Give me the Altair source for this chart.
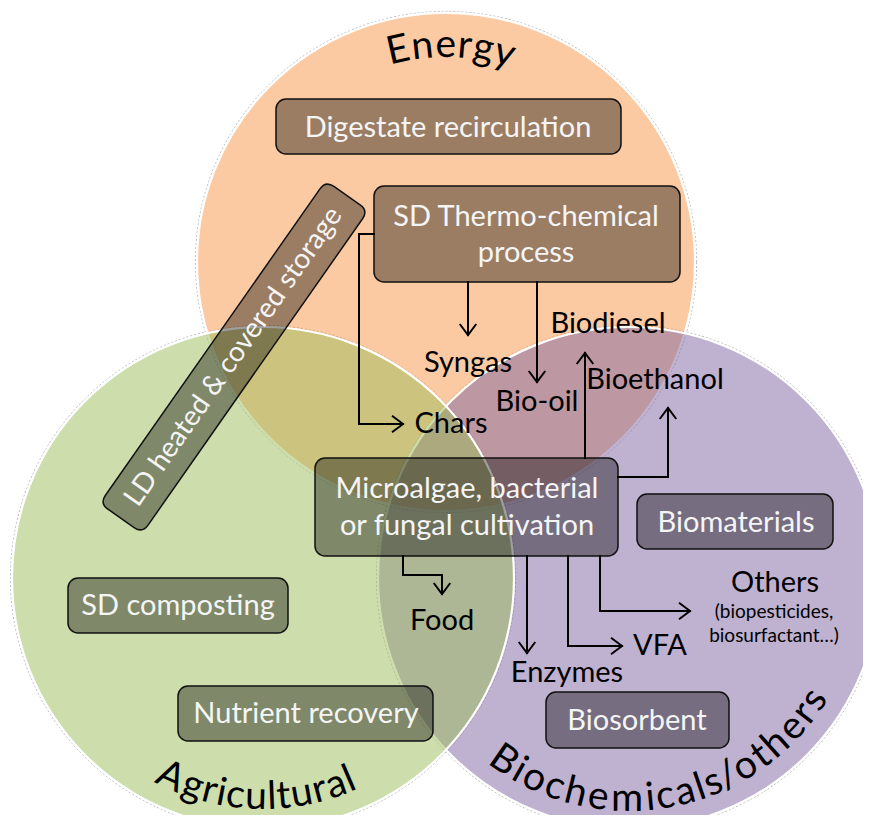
import math
import altair as alt
import pandas as pd

# ---------------- data ----------------
# Venn circles (draw order: Energy, Biochemicals/others, Agricultural)
circle_names = ["Energy", "Biochemicals/others", "Agricultural"]
circle_cx = [446, 629, 263]
circle_cy = [262, 578, 578]
circle_r = [249, 251, 251]
circle_colors = ["#F79646", "#8064A2", "#9BBB59"]

# axis-aligned process boxes
box_names = ["Digestate recirculation", "SD Thermo-chemical process",
             "Microalgae, bacterial or fungal cultivation", "Biomaterials",
             "SD composting", "Nutrient recovery", "Biosorbent"]
box_x1 = [276, 374, 315, 637, 68, 178, 546]
box_x2 = [621, 680, 618, 833, 288, 433, 729]
box_y1 = [99, 186, 458, 494, 578, 686, 692]
box_y2 = [154, 282, 556, 549, 633, 741, 748]

# text lines inside boxes
box_text = ["Digestate recirculation", "SD Thermo-chemical", "process",
            "Microalgae, bacterial", "or fungal cultivation", "Biomaterials",
            "SD composting", "Nutrient recovery", "Biosorbent"]
box_text_x = [448, 526, 526, 467, 467, 736, 178, 306, 637]
box_text_y = [137, 226, 262, 498, 535, 532, 615, 723, 730]

# rotated box
ld_text = "LD heated & covered storage"
ld_center = (234, 357)
ld_length = 394
ld_width = 52
ld_angle = 305  # clockwise degrees

# product labels
product = ["Syngas", "Bio-oil", "Chars", "Biodiesel", "Bioethanol",
           "Food", "Enzymes", "VFA", "Others"]
product_x = [468, 537, 451, 608, 655, 442, 567, 660, 775]
product_y = [372, 411, 433, 333, 389, 630, 682, 655, 592]
note = ["(biopesticides,", "biosurfactant…)"]
note_x = [774, 774]
note_y = [618, 642]

# arrow polylines (last point = arrow tip)
arrow_paths = [
    [(374, 234), (359, 234), (359, 424), (403, 424)],   # Chars
    [(468, 282), (468, 335)],                           # Syngas
    [(537, 282), (537, 382)],                           # Bio-oil
    [(585, 458), (585, 353)],                           # Biodiesel
    [(618, 477), (668, 477), (668, 408)],               # Bioethanol
    [(403, 556), (403, 575), (442, 575), (442, 594)],   # Food
    [(527, 556), (527, 653)],                           # Enzymes
    [(568, 556), (568, 646), (622, 646)],               # VFA
    [(600, 556), (600, 611), (690, 611)],               # Others
]

# curved circle titles: text, circle centre, baseline radius, start/end angle, on top?
titles = [
    ("Energy", 446, 262, 205, -106.0, -71.5, True),
    ("Agricultural", 263, 578, 231, 118.5, 65.5, False),
    ("Biochemicals/others", 629, 578, 233, 128.0, 31.0, False),
]

# ---------------- helpers ----------------
W, H = 855, 807
xs = alt.Scale(domain=[8, 8 + W], range=[0, W], nice=False, zero=False)
ys = alt.Scale(domain=[8, 8 + H], range=[0, H], nice=False, zero=False)
FONT = "Lato"

EM = {"A": .68, "B": .63, "E": .56, "a": .48, "b": .55, "c": .46, "e": .51,
      "g": .50, "h": .55, "i": .24, "l": .24, "m": .83, "n": .55, "o": .55,
      "r": .36, "s": .41, "t": .34, "u": .55, "y": .48, "/": .35}

def X(f="x"):
    return alt.X(f"{f}:Q", scale=xs, axis=None)

def Y(f="y"):
    return alt.Y(f"{f}:Q", scale=ys, axis=None)

# circles (Vega circle symbol: size = (diameter)^2)
circ_df = pd.DataFrame({"name": circle_names, "x": circle_cx, "y": circle_cy,
                        "area": [(2 * r) ** 2 for r in circle_r],
                        "area2": [(2 * (r + 1.6)) ** 2 for r in circle_r],
                        "color": circle_colors, "order": [0, 1, 2]})
outline = alt.Chart(circ_df).mark_circle(
    opacity=1, fillOpacity=0, stroke="#b8b8b8", strokeWidth=1, strokeDash=[2, 2], clip=True
).encode(x=X(), y=Y(), size=alt.Size("area2:Q", scale=None, legend=None),
         order=alt.Order("order:Q"))
circles = alt.Chart(circ_df).mark_circle(
    opacity=1, fillOpacity=0.5, stroke="white", strokeWidth=2.2, clip=True
).encode(x=X(), y=Y(), size=alt.Size("area:Q", scale=None, legend=None),
         color=alt.Color("color:N", scale=None, legend=None),
         order=alt.Order("order:Q"))

# boxes
box_df = pd.DataFrame({"name": box_names, "x": box_x1, "x2": box_x2,
                       "y": box_y1, "y2": box_y2})
boxes = alt.Chart(box_df).mark_rect(
    cornerRadius=10, fill="black", fillOpacity=0.38, stroke="#111111",
    strokeWidth=1.5
).encode(x=X(), x2="x2:Q", y=Y(), y2="y2:Q")

# rotated box as custom symbol (rounded rectangle in unit square)
hw = ld_width / ld_length
rc = 10 / (ld_length / 2)
path = (f"M {-1 + rc} {-hw} L {1 - rc} {-hw} Q 1 {-hw} 1 {-hw + rc} "
        f"L 1 {hw - rc} Q 1 {hw} {1 - rc} {hw} L {-1 + rc} {hw} "
        f"Q -1 {hw} -1 {hw - rc} L -1 {-hw + rc} Q -1 {-hw} {-1 + rc} {-hw} Z")
ld_df = pd.DataFrame({"x": [ld_center[0]], "y": [ld_center[1]],
                      "size": [ld_length ** 2], "label": [ld_text]})
ld_box = alt.Chart(ld_df).mark_point(
    shape=path, filled=True, fill="black", fillOpacity=0.38, stroke="#111111",
    strokeWidth=1.5, opacity=1, angle=ld_angle
).encode(x=X(), y=Y(), size=alt.Size("size:Q", scale=None, legend=None))
ld_label = alt.Chart(ld_df).mark_text(
    font=FONT, fontSize=28, color="#F5F5F5", angle=ld_angle, align="center",
    baseline="middle"
).encode(x=X(), y=Y(), text="label:N")

# box texts
bt_df = pd.DataFrame({"t": box_text, "x": box_text_x, "y": box_text_y})
box_labels = alt.Chart(bt_df).mark_text(
    font=FONT, fontSize=29, color="#F5F5F5", align="center", baseline="alphabetic"
).encode(x=X(), y=Y(), text="t:N")

# product labels
pr_df = pd.DataFrame({"t": product, "x": product_x, "y": product_y})
prod_labels = alt.Chart(pr_df).mark_text(
    font=FONT, fontSize=29, color="black", align="center", baseline="alphabetic"
).encode(x=X(), y=Y(), text="t:N")
nt_df = pd.DataFrame({"t": note, "x": note_x, "y": note_y})
note_labels = alt.Chart(nt_df).mark_text(
    font=FONT, fontSize=19, color="black", align="center", baseline="alphabetic"
).encode(x=X(), y=Y(), text="t:N")

# arrows
seg_rows, head_rows = [], []
for i, pts in enumerate(arrow_paths):
    for (x0, y0), (x1, y1) in zip(pts[:-1], pts[1:]):
        seg_rows.append({"x": x0, "y": y0, "x2": x1, "y2": y1, "a": i})
    (xa, ya), (xb, yb) = pts[-2], pts[-1]
    ang = math.degrees(math.atan2(yb - ya, xb - xa)) % 360
    head_rows.append({"x": xb, "y": yb, "rot": ang, "a": i})
seg_df = pd.DataFrame(seg_rows)
head_df = pd.DataFrame(head_rows)
segments = alt.Chart(seg_df).mark_rule(
    color="black", strokeWidth=2, strokeCap="square"
).encode(x=X(), y=Y(), x2="x2:Q", y2="y2:Q")
heads = alt.Chart(head_df).mark_point(
    shape="M -1 -0.75 L 0 0 L -1 0.75", filled=False, stroke="black",
    strokeWidth=2, size=484, opacity=1
).encode(x=X(), y=Y(), angle=alt.Angle("rot:Q", scale=None))

# curved titles
t_rows = []
for text, cx, cy, r, a0, a1, top in titles:
    widths = [EM.get(ch, 0.5) for ch in text]
    tot = sum(widths)
    cum = 0.0
    for ch, w in zip(text, widths):
        frac = (cum + w / 2) / tot
        phi = a0 + (a1 - a0) * frac
        px = cx + r * math.cos(math.radians(phi))
        py = cy + r * math.sin(math.radians(phi))
        rot = (phi + 90) if top else (phi - 90)
        t_rows.append({"ch": ch, "x": px, "y": py, "rot": rot % 360})
        cum += w
title_df = pd.DataFrame(t_rows)
title_text = alt.Chart(title_df).mark_text(
    font=FONT, fontSize=39, color="black", align="center", baseline="alphabetic"
).encode(x=X(), y=Y(), text="ch:N", angle=alt.Angle("rot:Q", scale=None))

chart = alt.layer(
    outline, circles, boxes, ld_box, ld_label, box_labels, segments, heads,
    prod_labels, note_labels, title_text
).properties(
    width=W, height=H, padding=0, autosize=alt.AutoSizeParams(type="none"),
    background="white"
).configure_view(stroke=None)

chart.save("out.html", embed_options={"renderer": "svg", "actions": False})
